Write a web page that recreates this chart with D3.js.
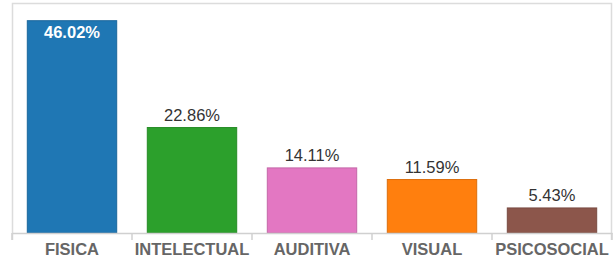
<!DOCTYPE html>
<html><head><meta charset="utf-8">
<script src="https://cdn.jsdelivr.net/npm/d3@7"></script>
<style>body{margin:0;background:#fff;}svg{display:block;}</style>
</head><body>
<script>
const categories = ["FISICA","INTELECTUAL","AUDITIVA","VISUAL","PSICOSOCIAL"];
const values = [46.02, 22.86, 14.11, 11.59, 5.43];
const colors = ["#1f77b4","#2ca02c","#e377c2","#ff7f0e","#8c564b"];

(function(){
const W = 616, H = 269;
const svg = d3.select("body").append("svg").attr("width", W).attr("height", H);
const mLeft = 12, mRight = 612, mTop = 3, base = 233;

const x = d3.scaleBand().domain(categories).range([mLeft, mRight]).paddingInner(0.255).paddingOuter(0.1275);
const y = d3.scaleLinear().domain([0, 46.02]).range([base, 20.7]);

// frame
svg.append("path").attr("d", `M${mLeft+0.5},${base+7}V${mTop+0.5}H${mRight-0.5}V${base+7}`)
  .attr("fill","none").attr("stroke","#dcdcdc").attr("stroke-width",1.5);

const data = categories.map((c,i)=>({c, v: values[i], col: colors[i]}));

svg.selectAll("rect.bar").data(data).join("rect")
  .attr("x", d=>x(d.c)).attr("width", x.bandwidth())
  .attr("y", d=>y(d.v)).attr("height", d=>base - y(d.v))
  .attr("fill", d=>d.col).attr("stroke", d=>d3.color(d.col).darker(0.4)).attr("stroke-width",1);

// axis
const ax = d3.axisBottom(x).tickSize(0).tickPadding(10);
const g = svg.append("g").attr("transform", `translate(0,${base})`).call(ax);
g.select(".domain").attr("stroke","#d0d0d0").attr("stroke-width",1.5);
g.selectAll("text").attr("font-family","Arial, 'Liberation Sans', sans-serif")
  .attr("font-size","16.5px").attr("font-weight","bold").attr("fill","#666");
// boundary ticks
const bounds = d3.range(categories.length+1).map(i=> mLeft + i*x.step());
svg.selectAll("line.bt").data(bounds).join("line")
  .attr("x1",d=>d).attr("x2",d=>d).attr("y1",base).attr("y2",base+7)
  .attr("stroke","#d0d0d0").attr("stroke-width",1.5);

// value labels
svg.selectAll("text.val").data(data).join("text")
  .attr("x", d=>x(d.c)+x.bandwidth()/2)
  .attr("y", (d,i)=> i===0 ? y(d.v)+17 : y(d.v)-7)
  .attr("text-anchor","middle")
  .attr("font-family","Arial, 'Liberation Sans', sans-serif")
  .attr("font-size","16.5px")
  .attr("font-weight",(d,i)=> i===0 ? "bold":"normal")
  .attr("fill",(d,i)=> i===0 ? "#fff" : "#333")
  .text(d=>d.v.toFixed(2)+"%");
})();
</script>
</body></html>
